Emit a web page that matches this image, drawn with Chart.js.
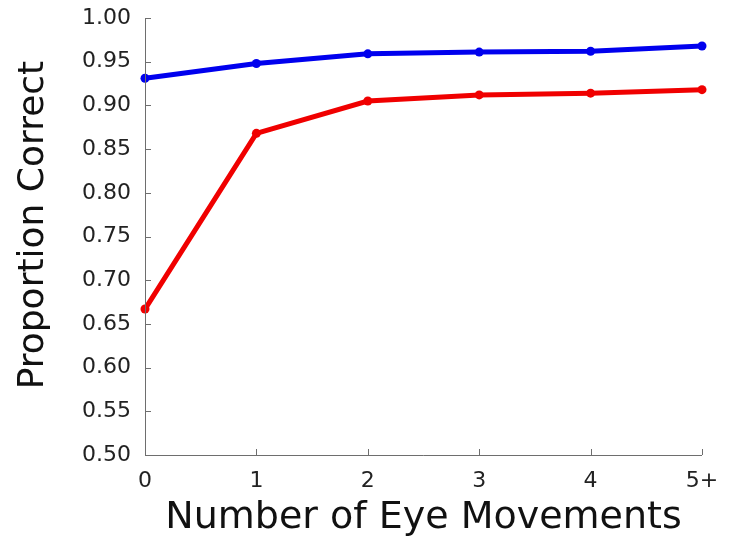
<!DOCTYPE html>
<html>
<head>
<meta charset="utf-8">
<script src="https://cdn.jsdelivr.net/npm/chart.js@4"></script>
<style>
  html, body { margin: 0; padding: 0; background: #fff; }
  #wrap { width: 732px; height: 549px; }
</style>
</head>
<body>
<div id="wrap"><canvas id="grafico" width="732" height="549"></canvas></div>
<script>
const categorias = ['0', '1', '2', '3', '4', '5+'];
const serieAzul = [0.931, 0.948, 0.959, 0.961, 0.962, 0.968];
const serieRoja = [0.667, 0.868, 0.905, 0.912, 0.914, 0.918];
const ticksY = [0.50, 0.55, 0.60, 0.65, 0.70, 0.75, 0.80, 0.85, 0.90, 0.95, 1.00];

const FUENTE = 'DejaVu Sans';
const GRIS = '#6e6e6e';

// ticks hacia dentro y solo ejes izquierdo e inferior
const ejesInternos = {
    id: 'ejesInternos',
    afterDraw(chart) {
        const ctx = chart.ctx;
        const x = chart.scales.x;
        const y = chart.scales.y;
        const area = chart.chartArea;
        ctx.save();
        ctx.strokeStyle = GRIS;
        ctx.lineWidth = 1;
        ctx.beginPath();
        ctx.moveTo(area.left + 0.5, area.top);
        ctx.lineTo(area.left + 0.5, area.bottom + 0.5);
        ctx.lineTo(area.right, area.bottom + 0.5);
        ticksY.forEach(v => {
            const py = Math.round(y.getPixelForValue(v)) + 0.5;
            ctx.moveTo(area.left, py);
            ctx.lineTo(area.left + 6, py);
        });
        categorias.forEach((c, i) => {
            const px = Math.round(x.getPixelForValue(i)) + 0.5;
            ctx.moveTo(px, area.bottom);
            ctx.lineTo(px, area.bottom - 6);
        });
        ctx.stroke();
        ctx.restore();
    }
};

new Chart(document.getElementById('grafico'), {
    type: 'line',
    data: {
        labels: categorias,
        datasets: [
            {
                label: 'Azul',
                data: serieAzul,
                borderColor: 'rgb(0, 0, 238)',
                backgroundColor: 'rgb(0, 0, 238)',
                borderWidth: 5,
                pointRadius: 4.5,
                pointBorderWidth: 0,
                pointHoverRadius: 4.5,
                tension: 0
            },
            {
                label: 'Roja',
                data: serieRoja,
                borderColor: 'rgb(240, 0, 0)',
                backgroundColor: 'rgb(240, 0, 0)',
                borderWidth: 5,
                pointRadius: 4.5,
                pointBorderWidth: 0,
                pointHoverRadius: 4.5,
                tension: 0
            }
        ]
    },
    options: {
        responsive: false,
        animation: false,
        clip: false,
        layout: { padding: { top: 18, right: 30, left: 0, bottom: 0 } },
        plugins: {
            legend: { display: false },
            tooltip: { enabled: false }
        },
        scales: {
            x: {
                offset: false,
                grid: { display: false, drawTicks: false },
                border: { display: false },
                ticks: {
                    color: '#222',
                    padding: 13,
                    maxRotation: 0,
                    font: { family: FUENTE, size: 22 }
                },
                title: {
                    display: true,
                    text: 'Number of Eye Movements',
                    color: '#111',
                    padding: { top: 4, bottom: 8 },
                    font: { family: FUENTE, size: 38 }
                },
                afterFit: s => { s.height = 94; }
            },
            y: {
                min: 0.50,
                max: 1.00,
                grid: { display: false, drawTicks: false },
                border: { display: false },
                afterBuildTicks: s => { s.ticks = ticksY.map(v => ({ value: v })); },
                ticks: {
                    color: '#222',
                    padding: 14,
                    font: { family: FUENTE, size: 22 },
                    callback: v => v.toFixed(2)
                },
                title: {
                    display: true,
                    text: '  Proportion Correct',
                    color: '#111',
                    padding: { top: 12, bottom: 0 },
                    font: { family: FUENTE, size: 36 }
                },
                afterFit: s => {
                    s.width = 145;
                    s.paddingTop = 0;
                    s.paddingBottom = 0;
                }
            }
        }
    },
    plugins: [ejesInternos]
});
</script>
</body>
</html>
